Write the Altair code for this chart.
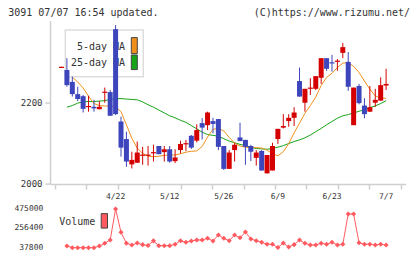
import altair as alt
import numpy as np
import pandas as pd

# ---- daily candles (61 sessions, oldest first) ----
opens = [2284, 2279, 2250, 2220, 2215, 2188, 2189, 2183, 2223, 2225,
         2379, 2153, 2110, 2048, 2052, 2069, 2069, 2075, 2093, 2078,
         2085, 2056, 2083, 2097, 2118, 2106, 2149, 2144, 2154, 2159,
         2093, 2037, 2083, 2114, 2108, 2093, 2064, 2081, 2026, 2033,
         2110, 2138, 2154, 2162, 2252, 2199, 2233, 2233, 2260, 2308,
         2298, 2299, 2321, 2299, 2144, 2240, 2192, 2177, 2199, 2204,
         2241]
highs = [2287, 2308, 2263, 2238, 2218, 2216, 2206, 2203, 2236, 2230,
         2389, 2165, 2128, 2079, 2104, 2091, 2093, 2096, 2093, 2093,
         2093, 2085, 2106, 2108, 2120, 2146, 2161, 2177, 2162, 2159,
         2093, 2083, 2100, 2150, 2108, 2096, 2083, 2083, 2071, 2101,
         2135, 2171, 2171, 2188, 2285, 2233, 2259, 2264, 2308, 2308,
         2316, 2306, 2345, 2323, 2236, 2245, 2210, 2240, 2233, 2261,
         2282]
lows = [2284, 2238, 2214, 2203, 2175, 2177, 2177, 2183, 2199, 2167,
        2169, 2067, 2042, 2038, 2052, 2047, 2045, 2055, 2073, 2055,
        2052, 2051, 2075, 2081, 2086, 2102, 2109, 2132, 2124, 2083,
        2034, 2037, 2055, 2105, 2047, 2056, 2045, 2033, 2026, 2033,
        2098, 2136, 2140, 2142, 2214, 2177, 2218, 2230, 2245, 2277,
        2275, 2277, 2308, 2228, 2144, 2195, 2161, 2177, 2189, 2204,
        2230]
closes = [2287, 2242, 2220, 2208, 2184, 2191, 2185, 2189, 2226, 2167,
          2171, 2089, 2055, 2059, 2077, 2072, 2072, 2078, 2073, 2085,
          2055, 2065, 2098, 2100, 2089, 2132, 2138, 2175, 2147, 2091,
          2037, 2077, 2096, 2105, 2091, 2079, 2077, 2033, 2071, 2093,
          2135, 2142, 2162, 2175, 2214, 2233, 2236, 2264, 2308, 2282,
          2295, 2302, 2335, 2238, 2236, 2198, 2171, 2188, 2206, 2242,
          2245]

# ---- moving averages ----
ma5 = [None, None, 2261, 2250, 2235, 2215, 2197, 2192, 2191, 2190,
       2189, 2177, 2145, 2112, 2088, 2075, 2068, 2067, 2068, 2070,
       2071, 2071, 2074, 2078, 2080, 2081, 2092, 2115, 2134, 2136,
       2130, 2114, 2100, 2093, 2090, 2089, 2089, 2088, 2083, 2074,
       2069, 2079, 2099, 2125, 2149, 2173, 2192, 2213, 2241, 2261,
       2271, 2285, 2296, 2297, 2288, 2273, 2252, 2232, 2216, 2210,
       2210]
ma25 = [None, 2188, 2192, 2198, 2201, 2202, 2202, 2203, 2204, 2207,
        2209, 2209, 2208, 2207, 2206, 2201, 2194, 2188, 2181, 2174,
        2167, 2162, 2156, 2151, 2143, 2135, 2127, 2121, 2119, 2117,
        2111, 2105, 2101, 2097, 2094, 2090, 2087, 2086, 2085, 2087,
        2090, 2094, 2099, 2104, 2108, 2113, 2120, 2128, 2136, 2145,
        2153, 2161, 2167, 2170, 2174, 2178, 2182, 2187, 2191, 2197,
        2204]

# ---- volume ----
volume = [None, 57000, 37800, 38000, 37800, 38000, 37800, 57000, 87500, 124800,
          475000, 211800, 87500, 68300, 90000, 72000, 63000, 115000, 60400, 60400,
          60400, 76200, 116900, 98800, 113500, 124800, 124800, 144000, 113500, 181300,
          144000, 116900, 181300, 150000, 215000, 136100, 116900, 98800, 76200, 76200,
          40000, 90000, 45000, 72000, 124800, 87500, 68300, 68300, 87500, 76200,
          98800, 68300, 76200, 418600, 418600, 94300, 76200, 76200, 68300, 76200,
          68300]

date_labels = ["4/22", "5/12", "5/26", "6/9", "6/23", "7/7"]
date_index = [10, 20, 30, 40, 50, 60]
price_ticks = [2000, 2200]
volume_ticks = [37800, 256400, 475000]

RED = "#d40000"
BLUE = "#3d45bd"
ORANGE = "#f0901c"
GREEN = "#17a417"
VOLC = "#ff5a5f"
AXIS = "#cfcfcf"
TXT = "#333333"
MONO = "DejaVu Sans Mono"

W, H = 355.7, 230.4
PRICE_H = 163.4

df = pd.DataFrame({"i": range(len(opens)), "open": opens, "high": highs,
                   "low": lows, "close": closes, "ma5": ma5, "ma25": ma25,
                   "vol": volume})
df["body_lo"] = df[["open", "close"]].min(axis=1)
df["body_hi"] = df[["open", "close"]].max(axis=1)

# shared session-index axis; its line and ticks sit under the price panel
xs = alt.Scale(domain=[-1.2, 62.7], nice=False, zero=False)
x_axis = alt.Axis(values=np.linspace(-1.2, 62.7, 12).tolist(), labels=False,
                  grid=False, title=None, domainColor=AXIS, domainWidth=1.5,
                  tickColor=AXIS, tickWidth=1.5, tickSize=5,
                  offset=-(H - PRICE_H))
X = alt.X("i:Q", scale=xs, axis=x_axis)

ps = alt.Scale(domain=[2000, 2400], range=[PRICE_H, 0], nice=False, zero=False)
y_axis = alt.Axis(values=price_ticks, format="d", grid=False, title=None,
                  domainColor=AXIS, domainWidth=1.5, tickColor=AXIS,
                  tickWidth=1.5, tickSize=5, labelFont=MONO, labelFontSize=9,
                  labelColor=TXT, labelPadding=3)
vs = alt.Scale(domain=[37800, 475000], range=[227.1, 188.4], nice=False, zero=False)

one = pd.DataFrame({"k": [0]})
candle_color = alt.condition("datum.close >= datum.open", alt.value(RED), alt.value(BLUE))

# moving-average legend
legend_box = alt.Chart(one).mark_rect(fill="white", stroke="#dddddd", strokeWidth=1.5).encode(
    x=alt.value(15.3), x2=alt.value(93.3), y=alt.value(9.4), y2=alt.value(56.1))
legend_txt5 = alt.Chart(one).mark_text(align="right", baseline="middle", font=MONO,
                                      fontSize=10, color=TXT, text="5-day MA").encode(
    x=alt.value(75), y=alt.value(26.2))
legend_txt25 = alt.Chart(one).mark_text(align="right", baseline="middle", font=MONO,
                                       fontSize=10, color=TXT, text="25-day MA").encode(
    x=alt.value(75), y=alt.value(42.8))
sw5 = alt.Chart(one).mark_rect(fill=ORANGE, stroke="#444444", strokeWidth=1).encode(
    x=alt.value(81.3), x2=alt.value(87.3), y=alt.value(17.0), y2=alt.value(33.0))
sw25 = alt.Chart(one).mark_rect(fill=GREEN, stroke="#444444", strokeWidth=1).encode(
    x=alt.value(81.3), x2=alt.value(87.3), y=alt.value(34.4), y2=alt.value(49.0))

base = alt.Chart(df)
ma5_line = base.mark_line(color=ORANGE, strokeWidth=1).encode(
    x=X, y=alt.Y("ma5:Q", scale=ps, axis=y_axis))
ma25_line = base.mark_line(color=GREEN, strokeWidth=1).encode(
    x=X, y=alt.Y("ma25:Q", scale=ps, axis=y_axis))
wicks = base.mark_rule(strokeWidth=1).encode(
    x=X, y=alt.Y("low:Q", scale=ps, axis=y_axis), y2="high:Q", color=candle_color)
bodies = base.mark_bar(size=5).encode(
    x=X, y=alt.Y("body_lo:Q", scale=ps, axis=y_axis), y2="body_hi:Q", color=candle_color)

date_df = pd.DataFrame({"i": date_index, "label": date_labels})
dates = alt.Chart(date_df).mark_text(font=MONO, fontSize=8, color=TXT, baseline="middle").encode(
    x=X, y=alt.value(176.6), text="label:N")

titles_l = alt.Chart(one).mark_text(align="left", baseline="alphabetic", font=MONO, fontSize=10,
                                    color=TXT, text="3091 07/07 16:54 updated.").encode(
    x=alt.value(-41.7), y=alt.value(-4.3))
titles_r = alt.Chart(one).mark_text(align="right", baseline="alphabetic", font=MONO, fontSize=10,
                                    color=TXT, text="(C)https://www.rizumu.net/").encode(
    x=alt.value(360.0), y=alt.value(-4.3))

price = alt.layer(legend_box, legend_txt5, legend_txt25, sw5, sw25,
                  ma25_line, ma5_line, wicks, bodies, dates, titles_l, titles_r)

# volume panel
vol_line = base.mark_line(color=VOLC, strokeWidth=1).encode(
    x=X, y=alt.Y("vol:Q", scale=vs, axis=None))
vol_pts = base.mark_point(shape="diamond", filled=True, size=26, color=VOLC, opacity=1).encode(
    x=X, y=alt.Y("vol:Q", scale=vs, axis=None))
vt_df = pd.DataFrame({"vol": volume_ticks, "label": [str(v) for v in volume_ticks]})
vol_labels = alt.Chart(vt_df).mark_text(align="right", baseline="middle", font=MONO,
                                        fontSize=8, color=TXT).encode(
    x=alt.value(-6.7), y=alt.Y("vol:Q", scale=vs, axis=None), text="label:N")
vol_legend_txt = alt.Chart(one).mark_text(align="left", baseline="middle", font=MONO,
                                          fontSize=10, color=TXT, text="Volume").encode(
    x=alt.value(9.3), y=alt.value(201.1))
vol_sw = alt.Chart(one).mark_rect(fill=VOLC, stroke="#444444", strokeWidth=1).encode(
    x=alt.value(51.2), x2=alt.value(57.5), y=alt.value(193.0), y2=alt.value(207.5))

vol = alt.layer(vol_line, vol_pts, vol_labels, vol_legend_txt, vol_sw)

chart = alt.layer(price, vol).resolve_scale(y="independent").properties(
    width=W, height=H,
    autosize=alt.AutoSizeParams(type="none"),
    padding={"left": 50, "top": 20.6, "right": 14.3, "bottom": 8.6},
    background="white",
).configure_view(stroke=None)

chart.save("out.html", embed_options={"renderer": "svg", "actions": False})
